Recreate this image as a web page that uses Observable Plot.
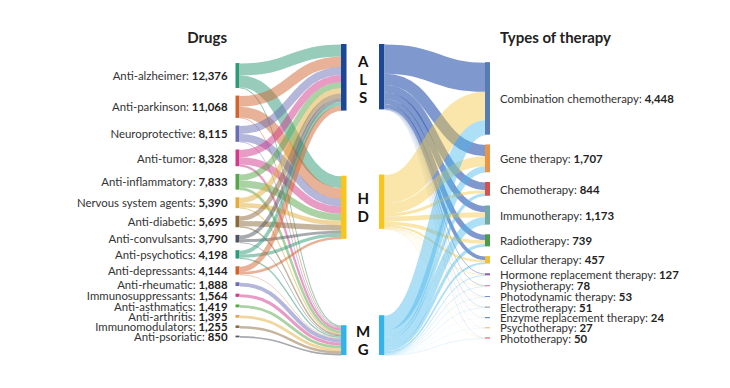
<!DOCTYPE html>
<html><head><meta charset="utf-8">
<script src="https://cdn.jsdelivr.net/npm/d3@7"></script>
<script src="https://cdn.jsdelivr.net/npm/@observablehq/plot@0.6"></script>
<style>body{margin:0;background:#fff}</style>
</head><body><div id="chart"></div>
<script>
// ---------- DATA ----------
const drugs = ["Anti-alzheimer","Anti-parkinson","Neuroprotective","Anti-tumor","Anti-inflammatory","Nervous system agents","Anti-diabetic","Anti-convulsants","Anti-psychotics","Anti-depressants","Anti-rheumatic","Immunosuppressants","Anti-asthmatics","Anti-arthritis","Immunomodulators","Anti-psoriatic"];
const drugTotals = [12376,11068,8115,8328,7833,5390,5695,3790,4198,4144,1888,1564,1419,1395,1255,850];
const drugToALS = [5950,5300,3960,3600,3000,2600,2300,1900,1900,2600,0,0,0,0,0,0];
const drugToHD  = [5926,5318,3755,3628,3533,2190,2695,1490,1598,1244,0,0,0,0,0,0];
const drugToMG  = [500,450,400,1100,1300,600,700,400,700,300,1888,1564,1419,1395,1255,850];
const diseases = ["ALS","HD","MG"];
const therapies = ["Combination chemotherapy","Gene therapy","Chemotherapy","Immunotherapy","Radiotherapy","Cellular therapy","Hormone replacement therapy","Physiotherapy","Photodynamic therapy","Electrotherapy","Enzyme replacement therapy","Psychotherapy","Phototherapy"];
const therapyTotals = [4448,1707,844,1173,739,457,127,78,53,51,24,27,50];
const alsToTherapy = [1790,690,470,390,330,220,40,25,15,15,8,5,10];
const hdToTherapy  = [1738,617,184,303,220,130,40,25,18,16,8,12,20];
const mgToTherapy  = [920,400,190,480,189,107,47,28,20,20,8,10,20];

// ---------- STYLE / LAYOUT ----------
const W = 730, H = 388;
const FONT = "Lato";
const drugPalette = ["#2f9a78","#d0652f","#6a6db5","#d23a8c","#58a64a","#e2ad3c","#8b6b3d","#4f555e"];
const diseaseColors = ["#1c4796","#f8c51c","#33b4e8"];
const diseaseLinkColors = ["#3c63b5","#f5c842","#4ab8ec"];
const diseaseLinkOpacity = [0.66,0.45,0.45];
const therapyColors = ["#587bb4","#e99549","#d65250","#72a9a5","#4e9a4b","#efc040","#8e5fa8","#e28aa6","#6a8fd0","#8a8f98","#4a78c0","#f0b860","#e04848"];
const extent = [44, 355];
const center = 200.2;
const band = 159.5;
const cols = {drug:[235.5,239.5], disL:[341,346.5], disR:[379,384.5], ther:[485,490]};
const hdGapFrac = 0.43;

function stackColumn(values, pad, ky) {
  const total = d3.sum(values) * ky + pad * (values.length - 1);
  let y = center - total / 2;
  return values.map(v => { const y0 = y; y += v * ky; const r = {y0, y1: y}; y += pad; return r; });
}
function diseaseColumn(values, ky) {
  const hs = values.map(v => v * ky);
  const free = (extent[1] - extent[0]) - d3.sum(hs);
  const tops = [extent[0], extent[0] + hs[0] + free * hdGapFrac, extent[1] - hs[2]];
  return hs.map((h, i) => ({y0: tops[i], y1: tops[i] + h}));
}

// left sankey
const leftMatrix = [drugToALS, drugToHD, drugToMG];
const kyL = band / d3.sum(drugTotals);
const drugNodes = stackColumn(drugTotals, 7.65, kyL);
const disLTotals = leftMatrix.map(a => d3.sum(a));
const disLNodes = diseaseColumn(disLTotals, kyL);
const linksL = [];
{
  const srcOff = drugNodes.map(n => n.y0);
  const tgtOff = disLNodes.map(n => n.y0);
  drugs.forEach((d, i) => {
    diseases.forEach((s, j) => {
      const v = leftMatrix[j][i];
      if (!v) return;
      const w = v * kyL;
      linksL.push({i, j, w, color: drugPalette[i % 8],
        x1: cols.drug[1], x2: cols.disL[0], y1: srcOff[i] + w / 2, y2: 0});
      srcOff[i] += w;
    });
  });
  diseases.forEach((s, j) => {
    linksL.filter(l => l.j === j).sort((a, b) => a.i - b.i).forEach(l => { l.y2 = tgtOff[j] + l.w / 2; tgtOff[j] += l.w; });
  });
}

// right sankey
const rightMatrix = [alsToTherapy, hdToTherapy, mgToTherapy];
const kyR = band / d3.sum(therapyTotals);
const therNodes = stackColumn(therapyTotals, 9.72, kyR);
const disRTotals = rightMatrix.map(a => d3.sum(a));
const disRNodes = diseaseColumn(disRTotals, kyR);
const linksR = [];
{
  const srcOff = disRNodes.map(n => n.y0);
  const tgtOff = therNodes.map(n => n.y0);
  diseases.forEach((s, j) => {
    therapies.forEach((t, k) => {
      const v = rightMatrix[j][k];
      if (!v) return;
      const w = v * kyR;
      linksR.push({j, k, w, color: diseaseLinkColors[j], op: diseaseLinkOpacity[j],
        x1: cols.disR[1], x2: cols.ther[0], y1: srcOff[j] + w / 2, y2: 0});
      srcOff[j] += w;
    });
  });
  therapies.forEach((t, k) => {
    linksR.filter(l => l.k === k).sort((a, b) => a.j - b.j).forEach(l => { l.y2 = tgtOff[k] + l.w / 2; tgtOff[k] += l.w; });
  });
}

// nodes
const nodeRects = [
  ...drugNodes.map((n, i) => ({x1: cols.drug[0], x2: cols.drug[1], y1: n.y0, y2: Math.max(n.y1, n.y0 + 1), fill: drugPalette[i % 8]})),
  ...disLNodes.map((n, j) => ({x1: cols.disL[0], x2: cols.disL[1], y1: n.y0, y2: n.y1, fill: diseaseColors[j]})),
  ...disRNodes.map((n, j) => ({x1: cols.disR[0], x2: cols.disR[1], y1: n.y0, y2: n.y1, fill: diseaseColors[j]})),
  ...therNodes.map((n, k) => ({x1: cols.ther[0], x2: cols.ther[1], y1: n.y0, y2: Math.max(n.y1, n.y0 + 1), fill: therapyColors[k]}))
];

// text measurement
const ctx = document.createElement("canvas").getContext("2d");
const FS = 11.4;
function tw(s, bold) { ctx.font = (bold ? "bold " : "") + FS + "px " + FONT; return ctx.measureText(s).width; }
const fmt = d3.format(",");

const drugLabelX = 227;
const mid = n => (n.y0 + n.y1) / 2 + 0.5;
const drugNames = drugs.map((d, i) => ({t: d + ":", x: drugLabelX - tw(fmt(drugTotals[i]), true) - tw(" ", false), y: mid(drugNodes[i])}));
const drugNums = drugs.map((d, i) => ({t: fmt(drugTotals[i]), x: drugLabelX, y: mid(drugNodes[i])}));
const therLabelX = 499.5;
const therNames = therapies.map((t, k) => ({t: t + ":", x: therLabelX, y: mid(therNodes[k])}));
const therNums = therapies.map((t, k) => ({t: fmt(therapyTotals[k]), x: therLabelX + tw(t + ": ", false), y: mid(therNodes[k])}));
const letters = diseases.map((s, j) => ({t: s.split("").join("\n"), x: 362.7, y: (disLNodes[j].y0 + disLNodes[j].y1 + disRNodes[j].y0 + disRNodes[j].y1) / 4 + 2}));
const titleLeft = [{t: "Drugs", x: 226.5, y: 38}];
const titleRight = [{t: "Types of therapy", x: 499.5, y: 38}];

const chart = Plot.plot({
  width: W, height: H, margin: 0,
  x: {domain: [0, W], range: [0, W], axis: null},
  y: {domain: [0, H], range: [0, H], axis: null},
  color: {type: "identity"},
  style: {fontFamily: FONT, background: "#fff"},
  marks: [
    Plot.link(linksL, {x1: "x1", x2: "x2", y1: "y1", y2: "y2", stroke: "color", strokeWidth: "w", strokeOpacity: 0.5, curve: "bump-x"}),
    Plot.link(linksR, {x1: "x1", x2: "x2", y1: "y1", y2: "y2", stroke: "color", strokeWidth: "w", strokeOpacity: "op", curve: "bump-x"}),
    Plot.rect(nodeRects, {x1: "x1", x2: "x2", y1: "y1", y2: "y2", fill: "fill"}),
    Plot.text(drugNames, {x: "x", y: "y", text: "t", textAnchor: "end", fontSize: FS, fill: "#333", fontFamily: FONT}),
    Plot.text(drugNums, {x: "x", y: "y", text: "t", textAnchor: "end", fontSize: FS, fontWeight: "bold", fill: "#222", fontFamily: FONT}),
    Plot.text(therNames, {x: "x", y: "y", text: "t", textAnchor: "start", fontSize: FS, fill: "#333", fontFamily: FONT}),
    Plot.text(therNums, {x: "x", y: "y", text: "t", textAnchor: "start", fontSize: FS, fontWeight: "bold", fill: "#222", fontFamily: FONT}),
    Plot.text(letters, {x: "x", y: "y", text: "t", fontSize: 15, fontWeight: "bold", fill: "#111", lineHeight: 1.2, fontFamily: FONT}),
    Plot.text(titleLeft, {x: "x", y: "y", text: "t", textAnchor: "end", fontSize: 15, fontWeight: "bold", fill: "#222", fontFamily: FONT}),
    Plot.text(titleRight, {x: "x", y: "y", text: "t", textAnchor: "start", fontSize: 15, fontWeight: "bold", fill: "#222", fontFamily: FONT})
  ]
});
document.getElementById("chart").append(chart);
</script></body></html>
